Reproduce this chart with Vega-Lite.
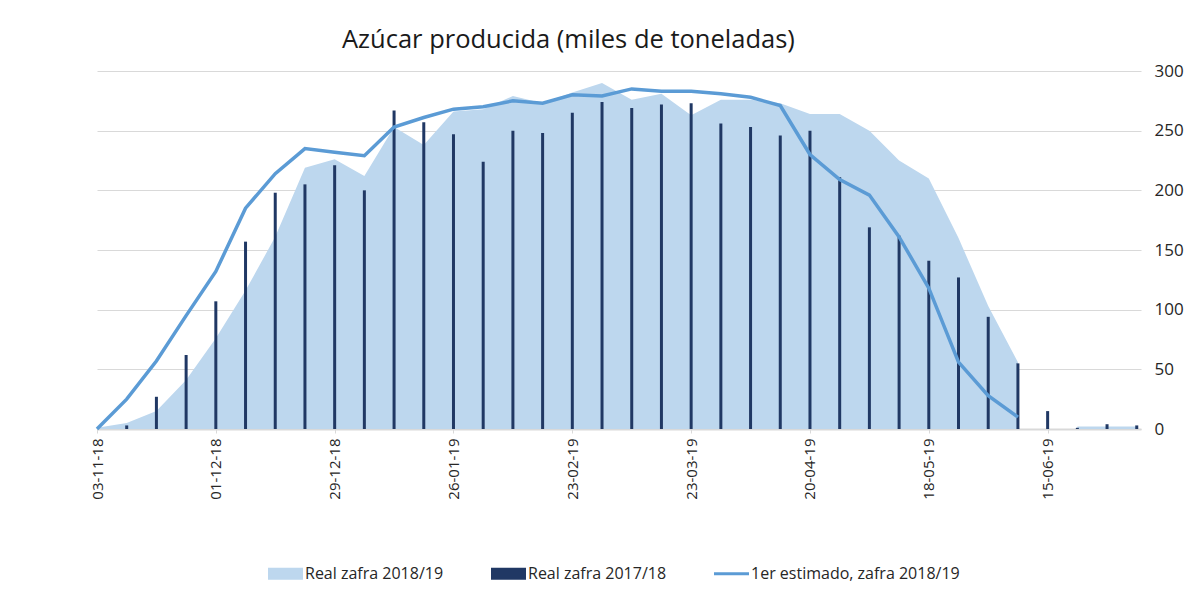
{
  "$schema": "https://vega.github.io/schema/vega-lite/v6.json",
  "width": 1044,
  "height": 358,
  "autosize": {"type": "none"},
  "padding": {"left": 97, "top": 71, "right": 57, "bottom": 177},
  "background": "white",
  "title": {
    "text": "Azúcar producida (miles de toneladas)",
    "anchor": "start",
    "frame": "group",
    "dx": 245,
    "fontSize": 25.5,
    "font": "Open Sans",
    "fontWeight": "normal",
    "color": "#1a1a1a",
    "offset": 9
  },
  "data": {
    "values": [
      {"fecha": "2018-11-03", "real1819": 1, "real1718": 0, "estimado": 0},
      {"fecha": "2018-11-10", "real1819": 5, "real1718": 3, "estimado": 25},
      {"fecha": "2018-11-17", "real1819": 15, "real1718": 27, "estimado": 57},
      {"fecha": "2018-11-24", "real1819": 41, "real1718": 62, "estimado": 95},
      {"fecha": "2018-12-01", "real1819": 76, "real1718": 107, "estimado": 132},
      {"fecha": "2018-12-08", "real1819": 116, "real1718": 157, "estimado": 185},
      {"fecha": "2018-12-15", "real1819": 161, "real1718": 198, "estimado": 214},
      {"fecha": "2018-12-22", "real1819": 219, "real1718": 205, "estimado": 235},
      {"fecha": "2018-12-29", "real1819": 226, "real1718": 221, "estimado": 232},
      {"fecha": "2019-01-05", "real1819": 212, "real1718": 200, "estimado": 229},
      {"fecha": "2019-01-12", "real1819": 253, "real1718": 267, "estimado": 253},
      {"fecha": "2019-01-19", "real1819": 238, "real1718": 257, "estimado": 261},
      {"fecha": "2019-01-26", "real1819": 266, "real1718": 247, "estimado": 268},
      {"fecha": "2019-02-02", "real1819": 268, "real1718": 224, "estimado": 270},
      {"fecha": "2019-02-09", "real1819": 279, "real1718": 250, "estimado": 275},
      {"fecha": "2019-02-16", "real1819": 273, "real1718": 248, "estimado": 273},
      {"fecha": "2019-02-23", "real1819": 282, "real1718": 265, "estimado": 280},
      {"fecha": "2019-03-02", "real1819": 290, "real1718": 274, "estimado": 279},
      {"fecha": "2019-03-09", "real1819": 276, "real1718": 269, "estimado": 285},
      {"fecha": "2019-03-16", "real1819": 281, "real1718": 272, "estimado": 283},
      {"fecha": "2019-03-23", "real1819": 263, "real1718": 273, "estimado": 283},
      {"fecha": "2019-03-30", "real1819": 276, "real1718": 256, "estimado": 281},
      {"fecha": "2019-04-06", "real1819": 276, "real1718": 253, "estimado": 278},
      {"fecha": "2019-04-13", "real1819": 273, "real1718": 246, "estimado": 271},
      {"fecha": "2019-04-20", "real1819": 264, "real1718": 250, "estimado": 230},
      {"fecha": "2019-04-27", "real1819": 264, "real1718": 211, "estimado": 209},
      {"fecha": "2019-05-04", "real1819": 250, "real1718": 169, "estimado": 196},
      {"fecha": "2019-05-11", "real1819": 225, "real1718": 162, "estimado": 161},
      {"fecha": "2019-05-18", "real1819": 210, "real1718": 141, "estimado": 118},
      {"fecha": "2019-05-25", "real1819": 160, "real1718": 127, "estimado": 56},
      {"fecha": "2019-06-01", "real1819": 103, "real1718": 94, "estimado": 28},
      {"fecha": "2019-06-08", "real1819": 56, "real1718": 55, "estimado": 10},
      {"fecha": "2019-06-15", "real1819": null, "real1718": 15, "estimado": null},
      {"fecha": "2019-06-22", "real1819": 2, "real1718": 1, "estimado": null},
      {"fecha": "2019-06-29", "real1819": 2, "real1718": 4, "estimado": null},
      {"fecha": "2019-07-06", "real1819": 2, "real1718": 3, "estimado": null}
    ]
  },
  "encoding": {
    "x": {
      "field": "fecha",
      "type": "temporal",
      "scale": {
        "type": "utc",
        "padding": 0,
        "nice": false,
        "domain": [
          {"year": 2018, "month": 11, "date": 3, "utc": true},
          {"year": 2019, "month": 7, "date": 7, "utc": true}
        ]
      },
      "axis": {
        "title": null,
        "grid": false,
        "values": [
          {"year": 2018, "month": 11, "date": 3, "utc": true},
          {"year": 2018, "month": 12, "date": 1, "utc": true},
          {"year": 2018, "month": 12, "date": 29, "utc": true},
          {"year": 2019, "month": 1, "date": 26, "utc": true},
          {"year": 2019, "month": 2, "date": 23, "utc": true},
          {"year": 2019, "month": 3, "date": 23, "utc": true},
          {"year": 2019, "month": 4, "date": 20, "utc": true},
          {"year": 2019, "month": 5, "date": 18, "utc": true},
          {"year": 2019, "month": 6, "date": 15, "utc": true}
        ],
        "labelExpr": "utcFormat(datum.value, '%d-%m-%y')",
        "labelAngle": -90,
        "labelFont": "Open Sans",
        "labelFontSize": 15,
        "labelColor": "#262626",
        "labelPadding": 5,
        "labelOverlap": false,
        "tickSize": 4,
        "tickColor": "#d9d9d9",
        "domainColor": "#d9d9d9",
        "domainWidth": 2
      }
    }
  },
  "layer": [
    {
      "mark": {"type": "area", "interpolate": "linear"},
      "encoding": {
        "y": {
          "field": "real1819",
          "type": "quantitative",
          "scale": {"domain": [0, 300]},
          "axis": {"orient": "right", "title": null, "values": [0, 50, 100, 150, 200, 250, 300], "grid": true, "gridColor": "#d9d9d9", "domain": false, "ticks": false, "labelPadding": 13, "labelFont": "Open Sans", "labelFontSize": 17, "labelColor": "#262626"}
        },
        "color": {
          "datum": "Real zafra 2018/19",
          "type": "nominal",
          "scale": {
            "domain": ["Real zafra 2018/19", "Real zafra 2017/18", "1er estimado, zafra 2018/19"],
            "range": ["#bdd7ee", "#203864", "#5b9bd5"]
          },
          "legend": {
            "orient": "none",
            "legendX": 171,
            "legendY": 485,
            "direction": "horizontal",
            "title": null,
            "symbolSize": 1225,
            "labelFont": "Open Sans",
            "labelFontSize": 16,
            "labelColor": "#262626",
            "labelOffset": 2,
            "labelLimit": 400,
            "columnPadding": 47,
            "symbolStrokeWidth": 0,
            "encode": {
              "symbols": {
                "update": {
                  "shape": {"signal": "datum.label == '1er estimado, zafra 2018/19' ? 'M-1,-0.086H1V0.086H-1Z' : 'M-1,-0.343H1V0.343H-1Z'"},
                  "fill": {"scale": "color", "field": "value"},
                  "strokeWidth": {"value": 0},
                  "opacity": {"value": 1}
                }
              }
            }
          }
        }
      }
    },
    {
      "mark": {"type": "bar", "size": 3},
      "encoding": {
        "y": {
          "field": "real1718",
          "type": "quantitative",
          "axis": {"orient": "right", "title": null, "values": [0, 50, 100, 150, 200, 250, 300], "grid": true, "gridColor": "#d9d9d9", "domain": false, "ticks": false, "labelPadding": 13, "labelFont": "Open Sans", "labelFontSize": 17, "labelColor": "#262626"}
        },
        "color": {"datum": "Real zafra 2017/18", "type": "nominal"}
      }
    },
    {
      "mark": {"type": "line", "strokeWidth": 3.5, "interpolate": "linear"},
      "encoding": {
        "y": {
          "field": "estimado",
          "type": "quantitative",
          "axis": {"orient": "right", "title": null, "values": [0, 50, 100, 150, 200, 250, 300], "grid": true, "gridColor": "#d9d9d9", "domain": false, "ticks": false, "labelPadding": 13, "labelFont": "Open Sans", "labelFontSize": 17, "labelColor": "#262626"}
        },
        "color": {"datum": "1er estimado, zafra 2018/19", "type": "nominal"}
      }
    }
  ],
  "config": {
    "view": {"stroke": null}
  }
}
